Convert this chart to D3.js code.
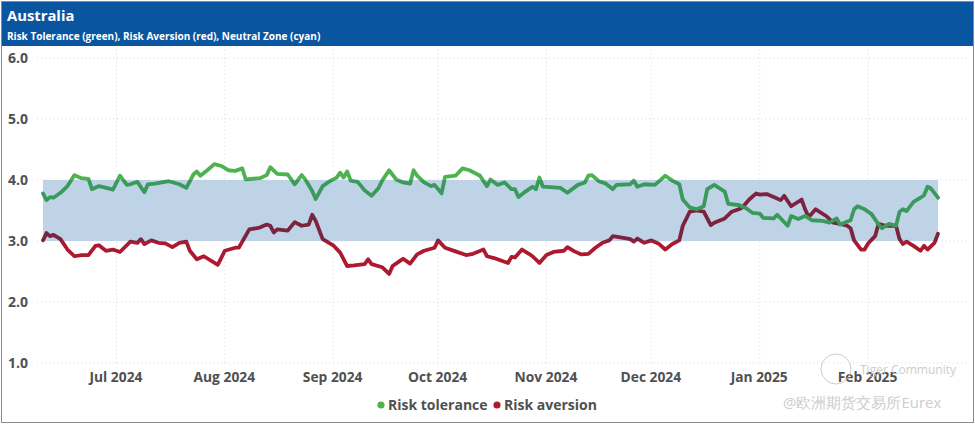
<!DOCTYPE html>
<html>
<head>
<meta charset="utf-8">
<script src="https://cdn.jsdelivr.net/npm/d3@7"></script>
<style>
  html, body { margin: 0; padding: 0; background: #fff; }
  svg { display: block; }
  text { font-family: "Open Sans", "Noto Sans", sans-serif; }
</style>
</head>
<body>
<svg id="chart" width="975" height="424"></svg>
<script>
// ---------------- DATA ----------------
const title = "Australia";
const subtitle = "Risk Tolerance (green), Risk Aversion (red), Neutral Zone (cyan)";
const seriesNames = ["Risk tolerance", "Risk aversion"];
const neutralZone = [3.0, 4.0];
const yTicks = [1.0, 2.0, 3.0, 4.0, 5.0, 6.0];
const xTickDates = ["2024-07-01","2024-08-01","2024-09-01","2024-10-01","2024-11-01","2024-12-01","2025-01-01","2025-02-01"];
const xDomain = ["2024-06-10", "2025-02-21"];

const toleranceDates = [
 "2024-06-10","2024-06-11","2024-06-12","2024-06-13","2024-06-15","2024-06-17","2024-06-19","2024-06-21","2024-06-23","2024-06-24",
 "2024-06-26","2024-06-29","2024-06-30","2024-07-02","2024-07-04","2024-07-05","2024-07-07","2024-07-09","2024-07-10","2024-07-12",
 "2024-07-14","2024-07-16","2024-07-19","2024-07-21","2024-07-23","2024-07-24","2024-07-25","2024-07-27","2024-07-29","2024-07-31",
 "2024-08-02","2024-08-04","2024-08-06","2024-08-07","2024-08-11","2024-08-13","2024-08-14","2024-08-16","2024-08-19","2024-08-21",
 "2024-08-23","2024-08-24","2024-08-26","2024-08-27","2024-08-29","2024-08-31","2024-09-02","2024-09-03","2024-09-04","2024-09-05",
 "2024-09-06","2024-09-08","2024-09-10","2024-09-12","2024-09-14","2024-09-15","2024-09-17","2024-09-19","2024-09-21","2024-09-23",
 "2024-09-24","2024-09-25","2024-09-27","2024-09-29","2024-09-30","2024-10-02","2024-10-03","2024-10-06","2024-10-08","2024-10-10",
 "2024-10-13","2024-10-14","2024-10-15","2024-10-16","2024-10-18","2024-10-20","2024-10-22","2024-10-23","2024-10-24","2024-10-26",
 "2024-10-28","2024-10-29","2024-10-30","2024-10-31","2024-11-05","2024-11-07","2024-11-10","2024-11-12","2024-11-13","2024-11-14",
 "2024-11-16","2024-11-18","2024-11-20","2024-11-21","2024-11-25","2024-11-26","2024-11-27","2024-11-29","2024-12-02","2024-12-03",
 "2024-12-05","2024-12-07","2024-12-09","2024-12-10","2024-12-12","2024-12-14","2024-12-16","2024-12-17","2024-12-19","2024-12-22",
 "2024-12-23","2024-12-26","2024-12-28","2024-12-30","2025-01-01","2025-01-02","2025-01-05","2025-01-06","2025-01-09","2025-01-10",
 "2025-01-12","2025-01-14","2025-01-16","2025-01-19","2025-01-21","2025-01-23","2025-01-24","2025-01-27","2025-01-28","2025-01-29",
 "2025-01-31","2025-02-02","2025-02-04","2025-02-05","2025-02-07","2025-02-09","2025-02-10","2025-02-11","2025-02-12","2025-02-14",
 "2025-02-16","2025-02-17","2025-02-18","2025-02-19","2025-02-21"
];
const toleranceValues = [
 3.78,3.67,3.72,3.71,3.79,3.90,4.08,4.03,4.02,3.85,
 3.90,3.86,3.84,4.07,3.92,3.93,3.97,3.80,3.93,3.94,
 3.96,3.98,3.93,3.87,4.09,4.14,4.07,4.16,4.26,4.23,
 4.16,4.15,4.19,4.01,4.03,4.08,4.21,4.10,4.09,3.93,
 4.08,4.01,3.82,3.69,3.90,3.98,4.04,4.12,4.04,4.14,
 3.99,3.97,3.83,3.74,3.87,3.99,4.16,4.01,3.96,3.94,
 4.16,4.07,3.96,3.90,3.92,3.78,4.05,4.07,4.19,4.16,
 4.07,3.98,3.90,4.01,3.92,3.96,3.85,3.85,3.72,3.81,
 3.89,3.85,4.04,3.89,3.87,3.79,3.92,3.96,4.07,4.08,
 3.98,3.94,3.85,3.92,3.93,3.99,3.89,3.93,3.92,3.97,
 4.07,3.99,3.93,3.68,3.55,3.52,3.57,3.85,3.92,3.81,
 3.61,3.59,3.54,3.46,3.45,3.38,3.37,3.43,3.25,3.41,
 3.36,3.41,3.34,3.33,3.30,3.37,3.27,3.34,3.52,3.57,
 3.52,3.44,3.27,3.21,3.28,3.25,3.48,3.52,3.49,3.64,
 3.71,3.75,3.89,3.86,3.71
];

const aversionDates = [
 "2024-06-10","2024-06-11","2024-06-12","2024-06-13","2024-06-15","2024-06-17","2024-06-19","2024-06-21","2024-06-23","2024-06-25",
 "2024-06-26","2024-06-28","2024-06-30","2024-07-02","2024-07-05","2024-07-07","2024-07-08","2024-07-09","2024-07-11","2024-07-13",
 "2024-07-15","2024-07-17","2024-07-19","2024-07-21","2024-07-22","2024-07-24","2024-07-26","2024-07-30","2024-08-01","2024-08-04",
 "2024-08-05","2024-08-08","2024-08-11","2024-08-13","2024-08-14","2024-08-15","2024-08-16","2024-08-19","2024-08-21","2024-08-23",
 "2024-08-25","2024-08-26","2024-08-27","2024-08-29","2024-09-01","2024-09-03","2024-09-05","2024-09-07","2024-09-10","2024-09-11",
 "2024-09-12","2024-09-15","2024-09-17","2024-09-18","2024-09-20","2024-09-21","2024-09-23","2024-09-25","2024-09-27","2024-09-30",
 "2024-10-01","2024-10-03","2024-10-06","2024-10-09","2024-10-11","2024-10-14","2024-10-15","2024-10-17","2024-10-21","2024-10-22",
 "2024-10-23","2024-10-25","2024-10-27","2024-10-28","2024-10-30","2024-11-01","2024-11-03","2024-11-06","2024-11-07","2024-11-09",
 "2024-11-11","2024-11-13","2024-11-15","2024-11-17","2024-11-19","2024-11-20","2024-11-23","2024-11-25","2024-11-26","2024-11-27",
 "2024-11-29","2024-12-01","2024-12-03","2024-12-05","2024-12-07","2024-12-09","2024-12-10","2024-12-12","2024-12-14","2024-12-16",
 "2024-12-18","2024-12-19","2024-12-22","2024-12-24","2024-12-26","2024-12-27","2024-12-29","2024-12-31","2025-01-01","2025-01-03",
 "2025-01-05","2025-01-07","2025-01-08","2025-01-10","2025-01-13","2025-01-14","2025-01-15","2025-01-17","2025-01-20","2025-01-22",
 "2025-01-24","2025-01-26","2025-01-27","2025-01-28","2025-01-30","2025-01-31","2025-02-01","2025-02-03","2025-02-04","2025-02-06",
 "2025-02-09","2025-02-10","2025-02-11","2025-02-12","2025-02-14","2025-02-16","2025-02-17","2025-02-18","2025-02-20","2025-02-21"
];
const aversionValues = [
 3.01,3.13,3.08,3.10,3.03,2.86,2.75,2.77,2.77,2.92,
 2.93,2.84,2.86,2.82,2.99,2.97,3.03,2.95,3.01,2.97,
 2.96,2.90,2.97,2.99,2.84,2.70,2.75,2.61,2.84,2.89,
 2.89,3.19,3.22,3.27,3.25,3.14,3.19,3.17,3.31,3.25,
 3.27,3.43,3.33,3.03,2.93,2.81,2.59,2.60,2.62,2.70,
 2.62,2.57,2.46,2.59,2.67,2.71,2.63,2.78,2.84,2.89,
 3.01,2.89,2.83,2.77,2.79,2.86,2.75,2.72,2.64,2.74,
 2.73,2.86,2.79,2.75,2.64,2.77,2.82,2.84,2.90,2.83,
 2.78,2.79,2.89,2.97,3.01,3.08,3.05,3.03,2.99,3.04,
 2.97,3.01,2.96,2.86,2.95,3.01,3.25,3.48,3.50,3.48,
 3.26,3.30,3.37,3.48,3.52,3.55,3.68,3.78,3.76,3.77,
 3.72,3.67,3.74,3.57,3.68,3.52,3.39,3.52,3.41,3.30,
 3.28,3.25,3.21,3.01,2.86,2.86,2.96,3.08,3.28,3.25,
 3.25,3.03,2.95,2.99,2.92,2.84,2.92,2.86,2.97,3.12
];

// ---------------- CHART ----------------
const W = 975, H = 424;
const svg = d3.select("#chart");
const parse = d3.utcParse("%Y-%m-%d");

const colors = {
  header: "#0a559f",
  band: "#bfd3e6",
  greenOut: "#4db34f",
  greenIn: "#3a9a5c",
  redOut: "#ad1a2f",
  redIn: "#7c2340",
  axisText: "#505050",
  grid: "#d9d9d9"
};

// frame
svg.append("rect").attr("x", 1.5).attr("y", 1.5).attr("width", W - 3).attr("height", H - 3)
  .attr("fill", "#fff").attr("stroke", "#8a8a8a").attr("stroke-width", 1);

// header
svg.append("rect").attr("x", 2).attr("y", 2).attr("width", W - 4).attr("height", 44).attr("fill", colors.header);
svg.append("text").attr("x", 7).attr("y", 21).attr("fill", "#fff")
  .attr("font-size", 14.8).attr("font-weight", 700).text(title);
svg.append("text").attr("x", 7).attr("y", 40).attr("fill", "#fff")
  .attr("font-size", 10).attr("font-weight", 700).text(subtitle);

const x = d3.scaleUtc().domain(xDomain.map(parse)).range([43, 938]);
const y = d3.scaleLinear().domain([1, 6]).range([363, 58]);

// horizontal grid
const gridG = svg.append("g");
gridG.selectAll("line.h").data(yTicks).join("line")
  .attr("x1", 37).attr("x2", 966)
  .attr("y1", d => y(d)).attr("y2", d => y(d))
  .attr("stroke", colors.grid).attr("stroke-width", 1).attr("stroke-dasharray", "1,3");
// vertical grid
gridG.selectAll("line.v").data(xTickDates.map(parse)).join("line")
  .attr("x1", d => x(d)).attr("x2", d => x(d))
  .attr("y1", 50).attr("y2", 366)
  .attr("stroke", colors.grid).attr("stroke-width", 1).attr("stroke-dasharray", "1,3");

// y axis labels
svg.append("g").selectAll("text").data(yTicks).join("text")
  .attr("x", 8).attr("y", d => y(d) + 5)
  .attr("fill", colors.axisText).attr("font-size", 14).attr("font-weight", 700)
  .text(d => d3.format(".1f")(d));

// x axis labels
const xAxis = d3.axisBottom(x).tickValues(xTickDates.map(parse)).tickFormat(d3.utcFormat("%b %Y")).tickSize(0).tickPadding(0);
const xg = svg.append("g").attr("transform", "translate(-1,372)").call(xAxis);
xg.select(".domain").remove();
xg.selectAll("text").attr("fill", colors.axisText).attr("font-size", 13.8).attr("font-weight", 700)
  .attr("font-family", "'Open Sans', 'Noto Sans', sans-serif").attr("dy", "0.71em");

// neutral zone band
const x0 = x.range()[0], x1 = x.range()[1];
svg.append("rect").attr("x", x0).attr("width", x1 - x0)
  .attr("y", y(neutralZone[1])).attr("height", y(neutralZone[0]) - y(neutralZone[1]))
  .attr("fill", colors.band);

// clip paths for inside / outside band
const defs = svg.append("defs");
defs.append("clipPath").attr("id", "inBand").append("rect")
  .attr("x", 0).attr("width", W).attr("y", y(neutralZone[1])).attr("height", y(neutralZone[0]) - y(neutralZone[1]));
const outClip = defs.append("clipPath").attr("id", "outBand");
outClip.append("rect").attr("x", 0).attr("width", W).attr("y", 0).attr("height", y(neutralZone[1]));
outClip.append("rect").attr("x", 0).attr("width", W).attr("y", y(neutralZone[0])).attr("height", H);

const line = d3.line().x(d => x(d[0])).y(d => y(d[1])).curve(d3.curveLinear);
const tol = toleranceDates.map((d, i) => [parse(d), toleranceValues[i]]);
const ave = aversionDates.map((d, i) => [parse(d), aversionValues[i]]);

function drawSeries(data, cOut, cIn) {
  svg.append("path").datum(data).attr("d", line).attr("fill", "none")
    .attr("stroke", cOut).attr("stroke-width", 3.8).attr("stroke-linejoin", "round").attr("stroke-linecap", "round")
    .attr("clip-path", "url(#outBand)");
  svg.append("path").datum(data).attr("d", line).attr("fill", "none")
    .attr("stroke", cIn).attr("stroke-width", 3.8).attr("stroke-linejoin", "round").attr("stroke-linecap", "round")
    .attr("clip-path", "url(#inBand)");
}
drawSeries(ave, colors.redOut, colors.redIn);
drawSeries(tol, colors.greenOut, colors.greenIn);

// legend
const legend = svg.append("g");
const legItems = [
  { name: seriesNames[0], color: colors.greenOut, cx: 381, tx: 388 },
  { name: seriesNames[1], color: colors.redOut, cx: 497, tx: 504 }
];
legItems.forEach(it => {
  legend.append("circle").attr("cx", it.cx).attr("cy", 405).attr("r", 3.6).attr("fill", it.color);
  legend.append("text").attr("x", it.tx).attr("y", 410).attr("fill", colors.axisText)
    .attr("font-size", 14).attr("font-weight", 700).text(it.name);
});

// watermark
const wm = svg.append("g").attr("fill", "#c8c8c8").attr("opacity", 0.9);
wm.append("circle").attr("cx", 836).attr("cy", 369).attr("r", 15).attr("fill", "none").attr("stroke", "#c8c8c8").attr("stroke-width", 1);
wm.append("text").attr("x", 860).attr("y", 374).attr("font-size", 12).text("Tiger Community");
wm.append("text").attr("x", 783).attr("y", 408).attr("font-size", 15).attr("font-family", "'Noto Sans CJK SC', sans-serif").text("@欧洲期货交易所Eurex");
</script>
</body>
</html>
